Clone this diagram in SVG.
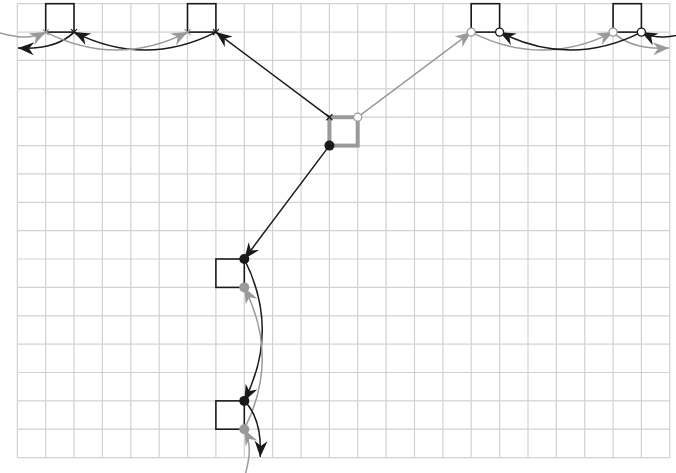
<svg xmlns="http://www.w3.org/2000/svg" width="676" height="473" viewBox="0 0 676 473">
<style>
.grid{stroke:#d2d2d2;stroke-width:1.2;fill:none}
.box{fill:#fff;stroke:#1a1a1a;stroke-width:1.6}
.cbox{fill:#fff;stroke:#9a9a9a;stroke-width:4}
.k{fill:none;stroke:#1a1a1a;stroke-width:1.5}
.g{fill:none;stroke:#9a9a9a;stroke-width:1.5}
.ka{marker-end:url(#ak)}
.ga{marker-end:url(#ag)}
.xk{stroke:#1a1a1a;stroke-width:1.3;fill:none}
.xg{stroke:#9a9a9a;stroke-width:1.3;fill:none}
.ok{fill:#fff;stroke:#1a1a1a;stroke-width:1.3}
.og{fill:#fff;stroke:#9a9a9a;stroke-width:1.3}
.fk{fill:#1a1a1a}
.fg{fill:#9a9a9a}
</style>
<defs>
<marker id="ak" viewBox="-17 -8 18 16" refX="0" refY="0" markerWidth="18" markerHeight="16" markerUnits="userSpaceOnUse" orient="auto"><path d="M0,0 L-16,-6.5 L-11,0 L-16,6.5 Z" fill="#1a1a1a"/></marker>
<marker id="ag" viewBox="-17 -8 18 16" refX="0" refY="0" markerWidth="18" markerHeight="16" markerUnits="userSpaceOnUse" orient="auto"><path d="M0,0 L-16,-6.5 L-11,0 L-16,6.5 Z" fill="#9a9a9a"/></marker>
<path id="cross" d="M-3,-3 L3,3 M-3,3 L3,-3"/>
</defs>
<rect width="676" height="473" fill="#fff"/>
<path class="grid" d="M17.3,3.7V457.6M45.7,3.7V457.6M74,3.7V457.6M102.4,3.7V457.6M130.8,3.7V457.6M159.2,3.7V457.6M187.5,3.7V457.6M215.9,3.7V457.6M244.3,3.7V457.6M272.6,3.7V457.6M301,3.7V457.6M329.4,3.7V457.6M357.7,3.7V457.6M386.1,3.7V457.6M414.5,3.7V457.6M442.9,3.7V457.6M471.2,3.7V457.6M499.6,3.7V457.6M528,3.7V457.6M556.3,3.7V457.6M584.7,3.7V457.6M613.1,3.7V457.6M641.4,3.7V457.6M669.8,3.7V457.6M17.3,3.7H669.8M17.3,32.1H669.8M17.3,60.4H669.8M17.3,88.8H669.8M17.3,117.2H669.8M17.3,145.6H669.8M17.3,173.9H669.8M17.3,202.3H669.8M17.3,230.7H669.8M17.3,259H669.8M17.3,287.4H669.8M17.3,315.8H669.8M17.3,344.1H669.8M17.3,372.5H669.8M17.3,400.9H669.8M17.3,429.2H669.8M17.3,457.6H669.8"/>
<g id="node-a"><rect class="box" x="45.7" y="3.7" width="28.3" height="28.4"/></g>
<g id="node-b"><rect class="box" x="187.5" y="3.7" width="28.4" height="28.4"/></g>
<g id="node-c"><rect class="box" x="471.2" y="3.7" width="28.4" height="28.4"/></g>
<g id="node-d"><rect class="box" x="613.1" y="3.7" width="28.3" height="28.4"/></g>
<g id="node-center"><rect class="cbox" x="329.4" y="117.2" width="28.3" height="28.4"/></g>
<g id="node-e"><rect class="box" x="215.9" y="259" width="28.4" height="28.4"/></g>
<g id="node-f"><rect class="box" x="215.9" y="400.9" width="28.4" height="28.3"/></g>
<g id="connectors">
<path class="k ka" d="M329.4,117.2 L215.9,32.1"/>
<path class="g ga" d="M357.7,117.2 L471.2,32.1"/>
<path class="k ka" d="M329.4,145.6 L244.3,259"/>
<path class="g ga" d="M0,33 C15,37 30,40 45.7,32.1"/>
<path class="k ka" d="M74,32.1 Q56,50 18,48"/>
<path class="k ka" d="M215.9,32.1 Q145,68 74,32.1"/>
<path class="g ga" d="M45.7,32.1 Q116.6,68 187.5,32.1"/>
<path class="k ka" d="M687,33 C672,37 657,40 641.4,32.1"/>
<path class="g ga" d="M613.1,32.1 Q631,50 669,48"/>
<path class="g ga" d="M471.2,32.1 Q542,68 613.1,32.1"/>
<path class="k ka" d="M641.4,32.1 Q570.5,68 499.6,32.1"/>
<path class="k ka" d="M244.3,259 Q280.2,329.9 244.3,400.9"/>
<path class="g ga" d="M244.3,429.2 Q280.2,358.3 244.3,287.4"/>
<path class="k ka" d="M244.3,400.9 Q262.2,418.9 260.2,456.9"/>
<path class="g ga" d="M245.2,474.9 C249.2,459.9 252.2,444.9 244.3,429.2"/>
<use href="#cross" class="xg" x="45.7" y="32.1"/>
<use href="#cross" class="xk" x="74" y="32.1"/>
<use href="#cross" class="xg" x="187.5" y="32.1"/>
<use href="#cross" class="xk" x="215.9" y="32.1"/>
<use href="#cross" class="xk" x="329.4" y="117.2"/>
<circle class="og" cx="357.7" cy="117.2" r="4"/>
<circle class="fk" cx="329.4" cy="145.6" r="5"/>
<circle class="og" cx="471.2" cy="32.1" r="4"/>
<circle class="ok" cx="499.6" cy="32.1" r="4"/>
<circle class="og" cx="613.1" cy="32.1" r="4"/>
<circle class="ok" cx="641.4" cy="32.1" r="4"/>
<circle class="fk" cx="244.3" cy="259" r="5"/>
<circle class="fg" cx="244.3" cy="287.4" r="5"/>
<circle class="fk" cx="244.3" cy="400.9" r="5"/>
<circle class="fg" cx="244.3" cy="429.2" r="5"/>
</g>
</svg>
